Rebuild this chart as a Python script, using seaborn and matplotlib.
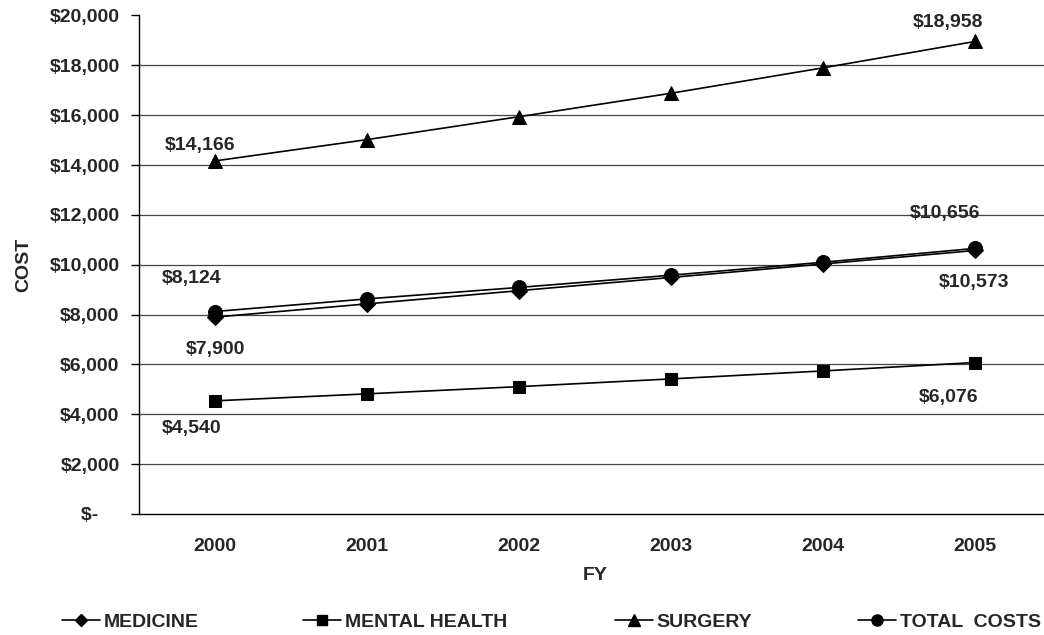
import pandas as pd
import seaborn as sns
import matplotlib.pyplot as plt
from matplotlib.lines import Line2D

# values
years = ["2000", "2001", "2002", "2003", "2004", "2005"]
medicine = [7900, 8430, 8960, 9490, 10030, 10573]
mental_health = [4540, 4820, 5110, 5420, 5740, 6076]
surgery = [14166, 15020, 15940, 16880, 17900, 18958]
total_costs = [8124, 8630, 9090, 9580, 10100, 10656]
series_names = ["MEDICINE", "MENTAL HEALTH", "SURGERY", "TOTAL  COSTS"]
y_ticks = [0, 2000, 4000, 6000, 8000, 10000, 12000, 14000, 16000, 18000, 20000]

sns.set_style("white")
plt.rcParams["font.family"] = ["Liberation Sans", "DejaVu Sans"]
plt.rcParams["font.weight"] = "bold"

rows = []
for name, vals in zip(series_names, [medicine, mental_health, surgery, total_costs]):
    for i, v in enumerate(vals):
        rows.append({"series": name, "pos": i, "cost": v})
df = pd.DataFrame(rows)

marks = {"MEDICINE": "D", "MENTAL HEALTH": "s", "SURGERY": "^", "TOTAL  COSTS": "o"}
msize = {"MEDICINE": 8, "MENTAL HEALTH": 9, "SURGERY": 10, "TOTAL  COSTS": 10}

fig = plt.figure(figsize=(10.44, 6.35), dpi=100)
ax = fig.add_axes([139 / 1044, 1 - 514 / 635, 912 / 1044, 498.5 / 635])

for name in series_names:
    sub = df[df["series"] == name]
    sns.lineplot(data=sub, x="pos", y="cost", ax=ax, color="black", lw=1.2,
                 marker=marks[name], markersize=msize[name],
                 markeredgecolor="black", markerfacecolor="black", legend=False)

ax.set_xlim(-0.5, 5.5)
ax.set_ylim(0, 20000)
ax.set_yticks(y_ticks)
ax.set_yticklabels(["$-    "] + ["${:,}".format(t) for t in y_ticks[1:]])
ax.set_xticks(range(len(years)))
ax.set_xticklabels(years)
ax.set_xticks([i - 0.5 for i in range(len(years) + 1)], minor=True)
ax.tick_params(axis="x", which="major", length=0, pad=17, labelsize=14)
ax.tick_params(axis="x", which="minor", length=5, width=1, color="black", direction="out")
ax.tick_params(axis="y", length=6, width=1, color="black", direction="out", pad=8, labelsize=14)
ax.tick_params(left=True, bottom=True)

for t in y_ticks[1:-1]:
    ax.axhline(t, color="#444444", lw=0.9, zorder=0)

for s in ["top", "right"]:
    ax.spines[s].set_visible(False)
for s in ["left", "bottom"]:
    ax.spines[s].set_color("black")
    ax.spines[s].set_linewidth(1)

ax.set_xlabel("FY", fontsize=14, fontweight="bold", labelpad=9)
ax.set_ylabel("COST", fontsize=14, fontweight="bold", labelpad=12)

# data labels: (series values, index, offset px)
labels = [
    (surgery, 0, (-15, 15)),
    (surgery, 5, (-27, 19)),
    (total_costs, 0, (-23, 33)),
    (medicine, 0, (0, -32)),
    (mental_health, 0, (-23, -28)),
    (total_costs, 5, (-30, 35)),
    (medicine, 5, (-1, -32)),
    (mental_health, 5, (-26, -35)),
]
for vals, i, off in labels:
    ax.annotate("${:,}".format(vals[i]), (i, vals[i]), xytext=off,
                textcoords="offset pixels", ha="center", va="center",
                fontsize=14, fontweight="bold")

# legend entries placed along the bottom
legend_x = [62, 303, 615, 858]
for name, x in zip(series_names, legend_x):
    h = Line2D([0], [0], color="black", lw=1.2, marker=marks[name],
               markersize=msize[name] - 2, markerfacecolor="black")
    fig.legend(handles=[h], labels=[name], loc="center left",
               bbox_to_anchor=(x / 1044, 1 - 622 / 635), frameon=False,
               borderpad=0, borderaxespad=0, handlelength=1.95,
               handletextpad=0.2, prop={"size": 14, "weight": "bold"})

fig.savefig("out.png", dpi=100)
